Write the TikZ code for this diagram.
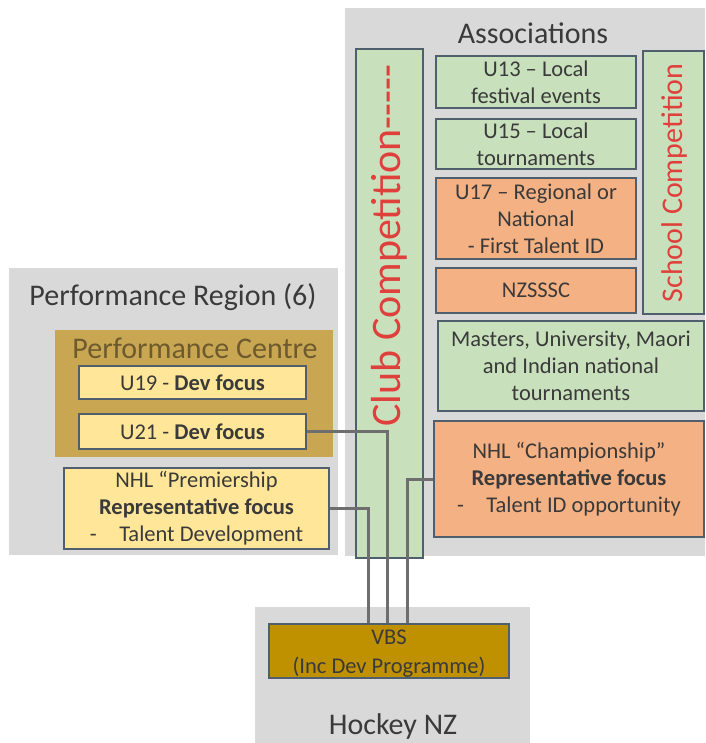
\documentclass[tikz,border=0pt]{standalone}
\usepackage{fontspec}
\setmainfont{Carlito}
\usepackage{tikz}
\usetikzlibrary{calc}
\definecolor{bggray}{HTML}{D9D9D9}
\definecolor{edge}{HTML}{4F5F6E}
\definecolor{green}{HTML}{C8E0BC}
\definecolor{orange}{HTML}{F4B183}
\definecolor{yellow}{HTML}{FFE699}
\definecolor{tan}{HTML}{C8A652}
\definecolor{gold}{HTML}{BF9000}
\definecolor{txt}{HTML}{3A3A3A}
\definecolor{redtxt}{HTML}{E0403C}
\definecolor{link}{HTML}{6E6E6E}
\tikzset{
  area/.style={fill=bggray, inner sep=0pt, anchor=north west},
  box/.style={draw=edge, line width=2pt, inner sep=0pt, align=center, anchor=north west, text=txt, font=\fontsize{22.5}{27}\selectfont},
  title/.style={text=txt, font=\fontsize{30}{34}\selectfont},
  link/.style={draw=link, line width=3pt},
}
\begin{document}
\begin{tikzpicture}[x=1pt,y=-1pt]
        \useasboundingbox (0,0) rectangle (705,743);
        %BACKGROUND
        \node[area, minimum width=360, minimum height=548] (assoc) at (345,8) {};
        \node[area, minimum width=329, minimum height=287] (region) at (9,268) {};
        \node[area, minimum width=275, minimum height=136] (hnz) at (255,607) {};
        \node[area, fill=tan, minimum width=278, minimum height=127] (centre) at (55,330) {};
        %TITLES
        \node[title] (assoctitle) at (533,33) {Associations};
        \node[title] (regiontitle) at (173,297) {Performance Region (6)};
        \node[title, text=tan!55!black] (centretitle) at (195,348) {Performance Centre};
        \node[title] (hnztitle) at (393,726) {Hockey NZ};
        %LEFT BOXES
        \node[box, fill=yellow, minimum width=227, minimum height=33] (u19) at (78,365) {U19 - \textbf{Dev focus}};
        \node[box, fill=yellow, minimum width=227, minimum height=35] (u21) at (78,413) {U21 - \textbf{Dev focus}};
        \node[box, fill=yellow, minimum width=265, minimum height=81] (prem) at (63,467) {NHL “Premiership\\\textbf{Representative focus}\\-\quad Talent Development};
        %ASSOCIATIONS
        \node[box, fill=green, minimum width=67, minimum height=509] (club) at (355,48) {};
        \node[rotate=90, anchor=west, text=redtxt, font=\fontsize{42}{44}\selectfont] (clubtext) at (389,430) {Club Competition{-}{-}{-}{-}{-}};
        \node[box, fill=green, minimum width=200, minimum height=52] (u13) at (435,55) {U13 – Local\\festival events};
        \node[box, fill=green, minimum width=200, minimum height=50] (u15) at (435,118) {U15 – Local\\tournaments};
        \node[box, fill=orange, minimum width=200, minimum height=81] (u17) at (435,177) {U17 – Regional or\\National\\- First Talent ID};
        \node[box, fill=orange, minimum width=200, minimum height=45] (nzsssc) at (435,267) {NZSSSC};
        \node[box, fill=green, minimum width=61, minimum height=263] (school) at (642,50) {};
        \node[rotate=90, text=redtxt, font=\fontsize{30}{32}\selectfont] (schooltext) at (674,183) {School Competition};
        \node[box, fill=green, minimum width=266, minimum height=90] (masters) at (437,320) {Masters, University, Maori\\and Indian national\\tournaments};
        \node[box, fill=orange, minimum width=270, minimum height=116] (champ) at (433,420) {NHL “Championship”\\\textbf{Representative focus}\\-\quad Talent ID opportunity};
        %HOCKEY NZ
        \node[box, fill=gold, minimum width=240, minimum height=54] (vbs) at (268,623) {};
        \node[text=txt, align=center, font=\fontsize{22.5}{29}\selectfont] (vbstext) at ($(vbs.center)+(0,3)$) {VBS\\(Inc Dev Programme)};
        %KOORDINAT
        \coordinate (x1) at (368,0);
        \coordinate (x2) at (387,0);
        \coordinate (x3) at (407,0);
        %LINKS
        \draw[link] (prem.east) -| (vbs.north -| x1);
        \draw[link] (u21.east) -| (vbs.north -| x2);
        \draw[link] (champ.west) -| (vbs.north -| x3);
    \end{tikzpicture}
\end{document}
